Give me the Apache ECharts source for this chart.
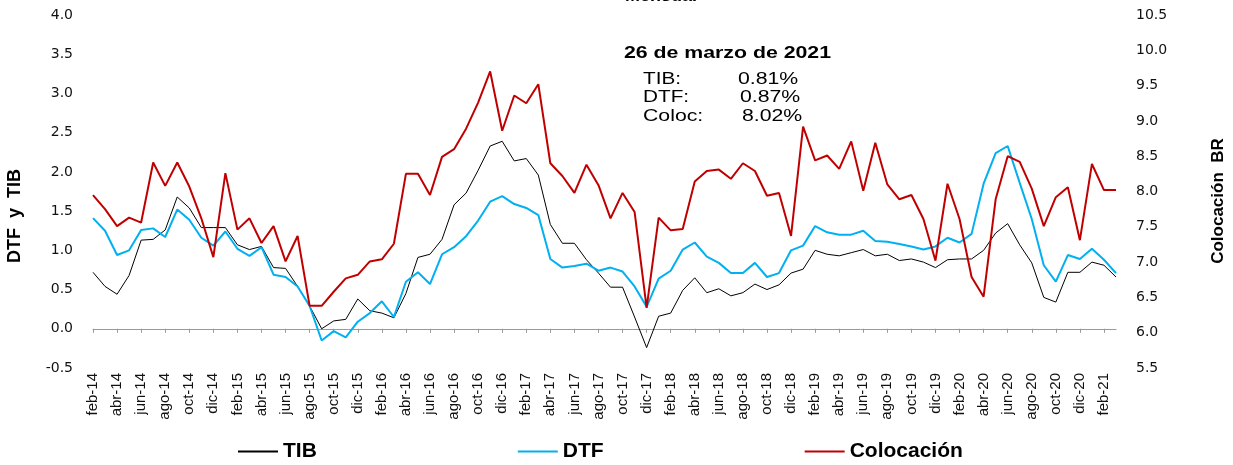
<!DOCTYPE html>
<html>
<head>
<meta charset="utf-8">
<script src="https://cdn.jsdelivr.net/npm/echarts@6/dist/echarts.min.js"></script>
<style>
  html, body { margin: 0; padding: 0; background: #fff; }
  #tasas_chart { width: 1233px; height: 465px; }
</style>
</head>
<body>
<div id="tasas_chart"></div>
<script>
// meses feb-14 .. mar-21
var mesesNombre = ['ene','feb','mar','abr','may','jun','jul','ago','sep','oct','nov','dic'];
var meses = [];
for (var k = 1; k < 12 * 7 + 3; k++) {
	var m = k % 12, a = 14 + Math.floor(k / 12);
	meses.push(mesesNombre[m] + '-' + a);
}

var tib = [
	0.72, 0.54, 0.44, 0.68, 1.13, 1.14, 1.26, 1.68, 1.54, 1.29,
	1.29, 1.29, 1.07, 1.01, 1.05, 0.78, 0.77, 0.54, 0.29, 0.00,
	0.10, 0.12, 0.38, 0.23, 0.20, 0.14, 0.45, 0.91, 0.95, 1.14,
	1.58, 1.73, 2.02, 2.33, 2.39, 2.14, 2.17, 1.96, 1.33, 1.09,
	1.09, 0.88, 0.71, 0.53, 0.53, 0.15, -0.24, 0.16, 0.20, 0.49,
	0.65, 0.46, 0.51, 0.42, 0.46, 0.57, 0.50, 0.56, 0.71, 0.76,
	1.00, 0.95, 0.93, 0.97, 1.01, 0.93, 0.95, 0.87, 0.89, 0.85,
	0.78, 0.88, 0.89, 0.89, 1.00, 1.22, 1.34, 1.07, 0.84, 0.40,
	0.34, 0.72, 0.72, 0.85, 0.81, 0.66
];

var dtf = [
	1.41, 1.25, 0.94, 1.00, 1.26, 1.28, 1.17, 1.52, 1.39, 1.16,
	1.06, 1.24, 1.02, 0.93, 1.04, 0.69, 0.66, 0.54, 0.29, -0.15,
	-0.03, -0.11, 0.09, 0.20, 0.35, 0.15, 0.60, 0.72, 0.57, 0.95,
	1.04, 1.18, 1.38, 1.62, 1.69, 1.59, 1.54, 1.45, 0.89, 0.78,
	0.80, 0.83, 0.74, 0.78, 0.73, 0.54, 0.28, 0.64, 0.74, 1.01,
	1.10, 0.92, 0.84, 0.71, 0.71, 0.84, 0.66, 0.71, 1.00, 1.06,
	1.31, 1.23, 1.20, 1.20, 1.25, 1.12, 1.11, 1.08, 1.05, 1.01,
	1.05, 1.16, 1.10, 1.21, 1.85, 2.24, 2.33, 1.86, 1.40, 0.81,
	0.60, 0.94, 0.89, 1.02, 0.88, 0.71
];

var colocacion = [
	7.95, 7.75, 7.51, 7.63, 7.56, 8.41, 8.08, 8.41, 8.07, 7.62,
	7.07, 8.26, 7.46, 7.62, 7.27, 7.51, 7.01, 7.37, 6.38, 6.38,
	6.58, 6.77, 6.82, 7.01, 7.04, 7.26, 8.25, 8.25, 7.95, 8.49,
	8.60, 8.89, 9.26, 9.70, 8.86, 9.36, 9.25, 9.52, 8.40, 8.22,
	7.98, 8.38, 8.09, 7.62, 7.98, 7.71, 6.35, 7.63, 7.45, 7.47,
	8.14, 8.29, 8.31, 8.18, 8.40, 8.29, 7.94, 7.98, 7.37, 8.92,
	8.44, 8.51, 8.32, 8.71, 8.01, 8.69, 8.10, 7.89, 7.95, 7.61,
	7.02, 8.11, 7.61, 6.79, 6.51, 7.89, 8.50, 8.42, 8.04, 7.51,
	7.92, 8.06, 7.31, 8.39, 8.02, 8.02
];

var ticksIzq = { min: -0.5, max: 4.0, interval: 0.5 };
var ticksDer = { min: 5.5, max: 10.5, interval: 0.5 };

var fuente = 'Liberation Sans, Arial, sans-serif';
var fuenteEje = 'DejaVu Sans, Verdana, sans-serif';

// texto horizontal ensanchado como en el original
function texto(x, y, t, font, sx) {
	return { type: 'text', x: x, y: y, scaleX: sx || 1,
		style: { text: t, font: font, fill: '#000', x: 0, y: 0, align: 'left', verticalAlign: 'top' } };
}

var chart = echarts.init(document.getElementById('tasas_chart'));

var option = {
	animation: false,
	grid: { left: 93, right: 117, top: 15, bottom: 97, containLabel: false },
	legend: {
		left: 238,
		top: 441,
		padding: 0,
		itemGap: 201,
		itemWidth: 40,
		itemHeight: 2,
		icon: 'rect',
		textStyle: { fontFamily: fuente, fontSize: 21, fontWeight: 'bold', color: '#000' },
		data: ['TIB', 'DTF', 'Colocación']
	},
	graphic: [
		texto(625, -13, 'Mensual', 'bold 18px ' + fuente, 1),
		texto(624, 46, '26 de marzo de 2021', 'bold 16px ' + fuente, 1.33),
		texto(643, 71, 'TIB:', '17px ' + fuente, 1.22),
		texto(738, 71, '0.81%', '17px ' + fuente, 1.25),
		texto(643, 89, 'DTF:', '17px ' + fuente, 1.22),
		texto(740, 89, '0.87%', '17px ' + fuente, 1.25),
		texto(643, 108, 'Coloc:', '17px ' + fuente, 1.25),
		texto(742, 108, '8.02%', '17px ' + fuente, 1.25),
		{ type: 'text', x: 15, y: 216, rotation: Math.PI / 2,
			style: { text: 'DTF  y  TIB', font: 'bold 18px ' + fuente, fill: '#000', align: 'center', verticalAlign: 'middle' } },
		{ type: 'text', x: 1218, y: 201, rotation: Math.PI / 2,
			style: { text: 'Colocación  BR', font: 'bold 17px ' + fuente, fill: '#000', align: 'center', verticalAlign: 'middle' } }
	],
	xAxis: {
		type: 'category',
		data: meses,
		boundaryGap: false,
		axisLine: { lineStyle: { color: '#999', width: 1 } },
		axisTick: { interval: 1, length: 4, lineStyle: { color: '#999' } },
		axisLabel: { interval: 1, rotate: 90, margin: 5, fontFamily: fuente, fontSize: 15, color: '#111' },
		splitLine: { show: false }
	},
	yAxis: [{
		type: 'value',
		min: ticksIzq.min, max: ticksIzq.max, interval: ticksIzq.interval,
		axisLine: { show: false },
		axisTick: { show: false },
		splitLine: { show: false },
		axisLabel: { margin: 20, fontFamily: fuenteEje, fontSize: 14, color: '#111',
			formatter: function(v) { return v.toFixed(1); } }
	}, {
		type: 'value',
		position: 'right',
		min: ticksDer.min, max: ticksDer.max, interval: ticksDer.interval,
		axisLine: { show: false },
		axisTick: { show: false },
		splitLine: { show: false },
		axisLabel: { margin: 20, fontFamily: fuenteEje, fontSize: 14, color: '#111',
			formatter: function(v) { return v.toFixed(1); } }
	}],
	series: [{
		name: 'TIB',
		type: 'line',
		data: tib,
		symbol: 'none',
		color: '#000',
		lineStyle: { color: '#000', width: 1 }
	}, {
		name: 'DTF',
		type: 'line',
		data: dtf,
		symbol: 'none',
		color: '#00B0F0',
		lineStyle: { color: '#00B0F0', width: 2 }
	}, {
		name: 'Colocación',
		type: 'line',
		yAxisIndex: 1,
		data: colocacion,
		symbol: 'none',
		color: '#C00000',
		lineStyle: { color: '#C00000', width: 2 }
	}]
};
chart.setOption(option);
</script>
</body>
</html>
